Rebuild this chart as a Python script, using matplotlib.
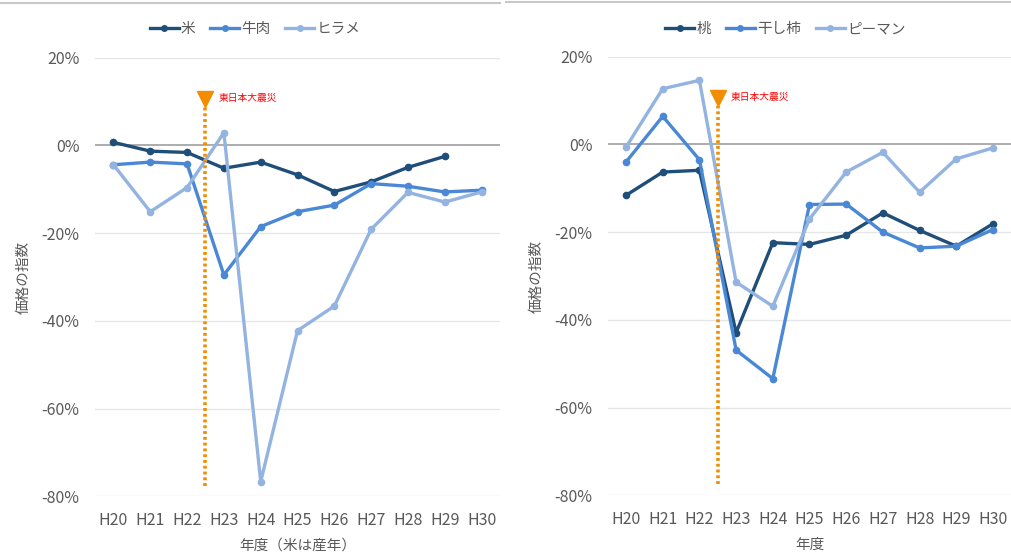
import matplotlib
matplotlib.use("Agg")
import matplotlib.pyplot as plt
from matplotlib.lines import Line2D

plt.rcParams['font.family'] = ['Noto Sans CJK JP', 'DejaVu Sans']

years = ["H20", "H21", "H22", "H23", "H24", "H25", "H26", "H27", "H28", "H29", "H30"]

# left panel (%)
rice = [0.7, -1.3, -1.6, -5.2, -3.8, -6.7, -10.5, -8.3, -5.0, -2.5, None]
beef = [-4.4, -3.8, -4.2, -29.5, -18.5, -15.1, -13.6, -8.7, -9.3, -10.6, -10.2]
hirame = [-4.4, -15.1, -9.6, 2.9, -76.6, -42.2, -36.6, -19.1, -10.7, -12.9, -10.6]

# right panel (%)
peach = [-11.6, -6.3, -5.9, -42.9, -22.4, -22.8, -20.7, -15.6, -19.6, -23.2, -18.1]
hoshigaki = [-4.0, 6.4, -3.5, -46.9, -53.4, -13.7, -13.6, -20.0, -23.6, -23.2, -19.4]
piman = [-0.6, 12.7, 14.6, -31.4, -36.9, -17.0, -6.3, -1.8, -10.9, -3.3, -0.8]

left_names = ["米", "牛肉", "ヒラメ"]
right_names = ["桃", "干し柿", "ピーマン"]
yticks = [20, 0, -20, -40, -60, -80]
quake_x = 2.5
quake_label = "東日本大震災"

colors = ["#1F4E79", "#4A88D6", "#93B3E1"]
grey_txt = "#595959"

fig = plt.figure(figsize=(10.12, 5.53), dpi=100)

def draw_panel(rect, series, names, xlabel, legend_center):
    ax = fig.add_axes(rect)
    xs = list(range(len(years)))
    for vals, c in zip(series, colors):
        pts = [(x, v) for x, v in zip(xs, vals) if v is not None]
        ax.plot([p[0] for p in pts], [p[1] for p in pts], color=c, lw=2.4,
                marker="o", ms=4.5, solid_joinstyle="round", zorder=3)
    ax.set_xlim(-0.5, len(years) - 0.5)
    ax.set_ylim(-80, 20)
    ax.set_yticks(yticks)
    ax.set_yticklabels([f"{v}%" for v in yticks])
    ax.set_xticks(xs)
    ax.set_xticklabels(years)
    for y in yticks:
        if y == 0:
            ax.axhline(0, color="#A6A6A6", lw=1.3, zorder=1)
        else:
            ax.axhline(y, color="#E6E6E6", lw=1.0, zorder=0)
    for s in ax.spines.values():
        s.set_visible(False)
    ax.tick_params(length=0, labelsize=11.5, colors=grey_txt)
    ax.tick_params(axis="x", pad=11)
    ax.tick_params(axis="y", pad=11)
    ax.set_ylabel("価格の指数", fontsize=10.5, color=grey_txt, labelpad=8)
    ax.set_xlabel(xlabel, fontsize=10.5, color=grey_txt, labelpad=7)
    # earthquake marker
    ax.plot([quake_x, quake_x], [-77.5, 8.8], color="#F28C00", lw=2.6,
            ls=(0, (0.8, 0.8)), zorder=4, clip_on=False)
    ax.plot([quake_x], [10.5], marker="v", color="#F28C00", ms=11, zorder=5,
            clip_on=False)
    ax.text(quake_x + 0.35, 10.8, quake_label, color="#FF0000", fontsize=7,
            va="center", ha="left")
    handles = [Line2D([0], [0], color=c, lw=2.4, marker="o", ms=4)
               for c in colors]
    leg = fig.legend(handles, names, loc="center", ncol=3,
                     bbox_to_anchor=legend_center, frameon=False,
                     fontsize=10.5, handlelength=2.0, handletextpad=0.15,
                     columnspacing=1.0)
    for t in leg.get_texts():
        t.set_color(grey_txt)
    return ax

draw_panel([0.0939, 0.1022, 0.4002, 0.7935], [rice, beef, hirame], left_names,
           "年度（米は産年）", (0.252, 0.947))
draw_panel([0.6005, 0.1043, 0.3988, 0.7932], [peach, hoshigaki, piman],
           right_names, "年度", (0.776, 0.947))

# thin frame edges along the top
fig.add_artist(Line2D([0, 0.494], [1 - 3 / 553, 1 - 3 / 553],
                      transform=fig.transFigure, color="#C8C8C8", lw=1.5))
fig.add_artist(Line2D([0.5, 1.0], [1 - 1.5 / 553, 1 - 1.5 / 553],
                      transform=fig.transFigure, color="#C8C8C8", lw=1.5))

fig.savefig("out.png", dpi=100)
